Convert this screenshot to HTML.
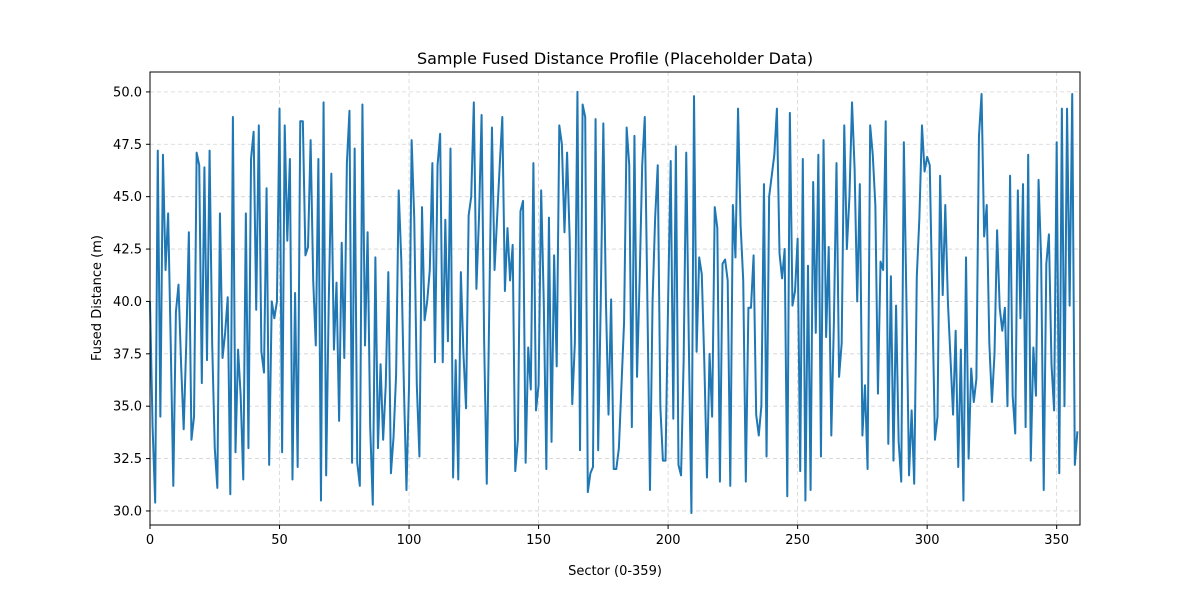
<!DOCTYPE html>
<html><head><meta charset="utf-8"><style>
body{margin:0;background:#fff;font-family:"Liberation Sans","DejaVu Sans",sans-serif}
</style></head><body>
<svg id="chart" width="1200" height="600" xmlns="http://www.w3.org/2000/svg" font-family="DejaVu Sans, Liberation Sans, sans-serif">
<rect width="1200" height="600" fill="#fff"/>
<g id="grid"></g>
<g id="series"></g>
<rect x="150" y="72" width="930" height="453" fill="none" stroke="#000" stroke-width="1"/>
<g id="xticks"></g>
<g id="yticks"></g>
<text x="615" y="64" text-anchor="middle" font-size="16">Sample Fused Distance Profile (Placeholder Data)</text>
<text x="615" y="575" text-anchor="middle" font-size="13">Sector (0-359)</text>
<text transform="translate(101,298) rotate(-90)" text-anchor="middle" font-size="13">Fused Distance (m)</text>
</svg>
<script>
const xTicks=[0,50,100,150,200,250,300,350];
const yTicks=[30.0,32.5,35.0,37.5,40.0,42.5,45.0,47.5,50.0];
const distances=[40,34,30.4,47.2,34.5,47,41.5,44.2,38,31.2,39.5,40.8,37,33.9,38,43.3,33.4,34.5,47.1,46.5,36.1,46.4,37.2,47.2,38,33,31.1,44.2,37.3,38.5,40.2,30.8,48.8,32.8,37.7,35.5,31.5,44.2,33,46.8,48.1,39.6,48.4,37.6,36.6,45.4,32.2,40,39.2,40,49.2,32.8,48.4,42.9,46.8,31.5,40.4,32.1,48.6,48.6,42.2,42.6,47.7,41,37.9,46.8,30.5,49.5,31.7,40,46.1,37.7,40.9,34.3,42.8,37.3,46.6,49.1,32.3,47.3,32.3,31.2,49.4,37.9,43.3,34,30.3,42.1,33,37,33.4,36,41.4,31.8,33.5,36.5,45.3,42,36,31,36,47.7,44,36,32.6,44.5,39.1,40,41.5,46.6,37.1,46.5,48,37.1,43.9,38.1,47.3,31.6,37.2,31.5,41.4,37.5,34.9,44.1,45,49.5,40.6,44,48.9,38,31.3,40,48.3,41.5,44,46.5,48.8,40.5,43.5,41,42.7,31.9,33.4,44.3,44.8,32.3,37.8,35.8,46.6,34.8,36,45.3,40,32,44,33.3,42.2,36.9,48.4,47.5,43.3,47.1,43,35.1,38,50,32.9,49.4,48.8,30.9,31.8,32.1,48.7,32.9,40,48.5,40,34.6,40.1,32,32,33,36,39,48.3,46.5,34,47.9,36.4,41,46.5,48.8,40,31,40,44,46.5,35,32.4,32.4,40,46.7,34.4,47.4,32.2,31.7,37.2,47.1,38,29.9,49.8,37.6,42.1,41.3,37,31.6,37.5,34.5,44.5,43.5,31.4,41.8,42,41,31.2,44.6,42.1,49.2,43.6,41,31.4,39.7,39.7,42.2,34.6,33.6,35,45.6,32.6,45,46,47,49.2,42.3,41.1,42.5,30.7,49,39.8,40.5,43,31.9,46.8,30.5,41.7,31,45.7,38.5,47,32.6,47.7,38.3,42.6,33.6,39,46.6,36.4,38,48.4,42.5,45,49.5,46.3,40,45.6,33.6,36,32,48.4,47,44.6,35.6,41.9,41.5,48.6,33.2,41.2,32.4,39.8,33.3,31.4,47.6,40,31.7,34.8,31.3,41.2,44,48.4,46.2,46.9,46.5,40,33.4,34.5,46,40.3,44.6,40,37.3,34.6,38.6,32.1,37.7,30.5,42.1,32.5,36.8,35.2,36.3,47.9,49.9,43.1,44.6,38,35.2,37.5,43.4,39.7,38.6,39.7,35,46,35.5,33.7,45.3,39.2,45.6,34,47,32.4,37.8,35.5,45.8,42,31,41.8,43.2,37,34.8,47.6,31.8,49.2,35,49.2,39.8,49.9,32.2,33.8];
const X0=150,X1=1080,Y0=525,Y1=72,XMIN=0,XMAX=359,YMIN=29.33,YMAX=50.95;
const sx=v=>X0+(v-XMIN)/(XMAX-XMIN)*(X1-X0);
const sy=v=>Y0-(v-YMIN)/(YMAX-YMIN)*(Y0-Y1);
const NS='http://www.w3.org/2000/svg';
const mk=(t,a)=>{const e=document.createElementNS(NS,t);for(const k in a)e.setAttribute(k,a[k]);return e;};
const grid=document.getElementById('grid'),xt=document.getElementById('xticks'),yt=document.getElementById('yticks');
xTicks.forEach(v=>{const x=sx(v);
const g=mk('line',{x1:x,x2:x,y1:Y1,y2:Y0,stroke:'#d3d3d3','stroke-dasharray':'4,3','stroke-width':0.8});


grid.appendChild(g);
const t=mk('line',{x1:x,x2:x,y1:Y0,y2:Y0+4,stroke:'#000'});


xt.appendChild(t);
const l=mk('text',{x:x,y:Y0+19,'text-anchor':'middle','font-size':13});l.textContent=v;


xt.appendChild(l);});
yTicks.forEach(v=>{const y=sy(v);
const g=mk('line',{x1:X0,x2:X1,y1:y,y2:y,stroke:'#d3d3d3','stroke-dasharray':'4,3','stroke-width':0.8});


grid.appendChild(g);
const t=mk('line',{x1:X0-4,x2:X0,y1:y,y2:y,stroke:'#000'});


yt.appendChild(t);
const l=mk('text',{x:X0-8,y:y+4.5,'text-anchor':'end','font-size':13});l.textContent=v.toFixed(1);


yt.appendChild(l);});
const pts=distances.map((d,i)=>sx(i).toFixed(2)+','+sy(d).toFixed(2)).join(' ');
const line=mk('polyline',{points:pts,fill:'none',stroke:'#1f77b4','stroke-width':2,'stroke-linejoin':'round'});


document.getElementById('series').appendChild(line);
</script>
</body></html>
